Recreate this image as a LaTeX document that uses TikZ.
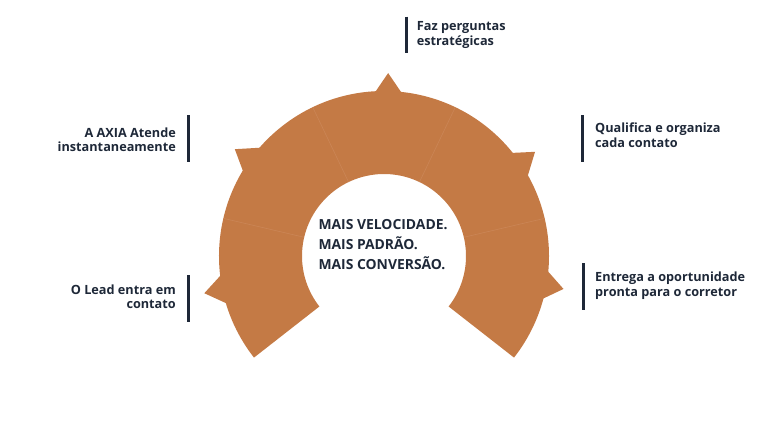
\documentclass[tikz,border=0pt]{standalone}
\usepackage{fontspec}
\setmainfont{Open Sans}
\definecolor{ringc}{HTML}{C47A45}
\definecolor{divc}{HTML}{CB8656}
\definecolor{ink}{HTML}{1E2838}
\begin{document}
\begin{tikzpicture}[x=1pt,y=-1pt,
  lbl/.style={font=\fontsize{12.7}{15}\selectfont\bfseries, text=ink, inner sep=0pt},
  ctr/.style={font=\fontsize{13.9}{20}\selectfont\bfseries, text=ink, inner sep=0pt, anchor=base west},
  bar/.style={draw=ink, line width=3pt},
  divline/.style={draw=divc, line width=0.6pt}]
\useasboundingbox (0,0) rectangle (768,432);
\coordinate (C) at (384,256);
\begin{scope}[shift={(384,256)}]
  % ring
  \fill[ringc] (218:165pt) arc[start angle=218, end angle=-38, radius=165pt]
     -- (-38:82pt) arc[start angle=-38, end angle=218, radius=82pt] -- cycle;
  % pointer tips
  \fill[ringc] (197.2:163pt) -- (191.7:183.5pt) -- (186.3:163pt) -- cycle;
  \fill[ringc] (149.4:163pt) -- (144.4:183.5pt) -- (138.3:163pt) -- cycle;
  \fill[ringc] (93.4:163pt) -- (88.7:183pt) -- (83.5:163pt) -- cycle;
  \fill[ringc] (39.2:163pt) -- (34.6:183.5pt) -- (28.6:163pt) -- cycle;
  \fill[ringc] (-4.8:163pt) -- (-10.4:182.5pt) -- (-15.5:163pt) -- cycle;
  % segment divisions
  \foreach \a in {166.8,115.6,64.4,13.2}{
    \draw[divline] (\a:82pt) -- (\a:165pt);
  }
\end{scope}
% centre text
\node[ctr] (c1) at (318.3,229) {MAIS VELOCIDADE.};
\node[ctr] (c2) at (318.3,249.3) {MAIS PADRÃO.};
\node[ctr] (c3) at (318.3,269.3) {MAIS CONVERSÃO.};
% top label
\draw[bar] (406.7,16.7) -- (406.7,53.3);
\node[lbl, anchor=base west] (faz1) at (416.7,30.7) {Faz perguntas};
\node[lbl, anchor=base west] (faz2) at (416.7,45.7) {estratégicas};
% right upper label
\draw[bar] (582,115) -- (582,162.3);
\node[lbl, anchor=base west] (qua1) at (595,132.3) {Qualifica e organiza};
\node[lbl, anchor=base west] (qua2) at (595,147.3) {cada contato};
% right lower label
\draw[bar] (583,263.3) -- (583,309.5);
\node[lbl, anchor=base west] (ent1) at (595,281.7) {Entrega a oportunidade};
\node[lbl, anchor=base west] (ent2) at (595,296.7) {pronta para o corretor};
% left upper label
\draw[bar] (188.3,115) -- (188.3,161.7);
\node[lbl, anchor=base east] (axi1) at (176,137) {A AXIA Atende};
\node[lbl, anchor=base east] (axi2) at (176,151) {instantaneamente};
% left lower label
\draw[bar] (188.3,275) -- (188.3,321.7);
\node[lbl, anchor=base east] (lea1) at (176,294.3) {O Lead entra em};
\node[lbl, anchor=base east] (lea2) at (176,308.3) {contato};
\end{tikzpicture}
\end{document}
